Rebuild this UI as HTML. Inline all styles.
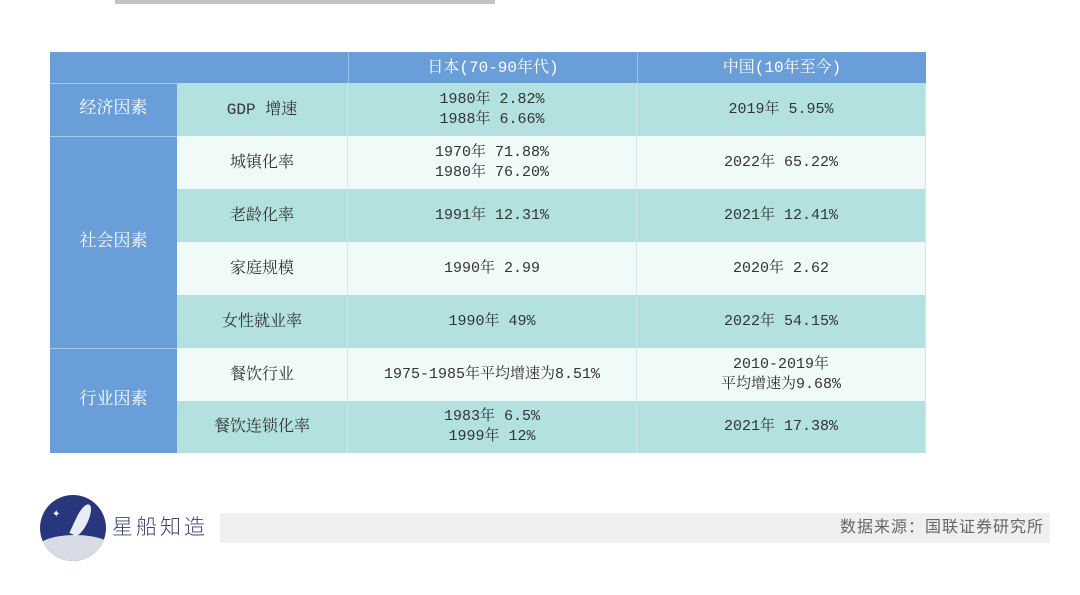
<!DOCTYPE html>
<html><head><meta charset="utf-8"><style>
body{margin:0;width:1080px;height:595px;background:#fff;position:relative;overflow:hidden;font-family:"Liberation Mono","Noto Serif CJK SC",serif;}
.c{position:absolute;display:flex;align-items:center;justify-content:center;text-align:center;font-size:15px;color:#333;line-height:20px;box-sizing:border-box;}
.h{background:#6a9ed9;color:#fff;font-size:16px;}
.t{background:#b2e1e0;}
.w{background:#effaf9;}
.b{border-right:1px solid #d0e6e6;}
</style></head><body>
<div style="position:absolute;left:115px;top:-3px;width:380px;height:7px;background:#555;opacity:.35"></div>
<div style="position:absolute;left:0;top:0">
<div class="c h" style="left:50px;top:52px;width:298px;height:31px"></div>
<div class="c h" style="left:348px;top:52px;width:289px;height:31px;border-left:1px solid #9cc0ea">日本(70-90年代)</div>
<div class="c h" style="left:637px;top:52px;width:289px;height:31px;border-left:1px solid #9cc0ea">中国(10年至今)</div>
<div class="c h" style="left:50px;top:83px;width:127px;height:53px;border-top:1px solid #a8c8ee;font-size:17px">经济因素</div>
<div class="c h" style="left:50px;top:136px;width:127px;height:212px;border-top:1px solid #a8c8ee;font-size:17px">社会因素</div>
<div class="c h" style="left:50px;top:348px;width:127px;height:105px;border-top:1px solid #a8c8ee;font-size:17px">行业因素</div>
<div id="rows"></div>
</div>
<div style="position:absolute;left:40px;top:495px;width:66px;height:66px;border-radius:50%;background:#28377d;overflow:hidden">
<div style="position:absolute;left:-5px;top:40px;width:80px;height:30px;background:#d8dce6;border-radius:50% 50% 0 0"></div>
<div style="position:absolute;left:36px;top:8px;width:12px;height:34px;background:#e8ecf4;border-radius:50% 50% 50% 0;transform:rotate(25deg)"></div>
<div style="position:absolute;left:12px;top:14px;color:#fff;font-size:10px">✦</div>
</div>
<div class="c" style="left:112px;top:513px;height:30px;font-family:'Liberation Sans','Noto Sans CJK SC',sans-serif;font-size:21px;color:#3a4470;letter-spacing:3px;font-weight:300">星船知造</div>
<div class="c" style="left:220px;top:513px;width:830px;height:30px;background:#efefef;justify-content:flex-end;padding-right:6px;font-family:'Liberation Sans','Noto Sans CJK SC',sans-serif;font-size:16px;color:#666;letter-spacing:1px">数据来源：国联证券研究所</div>
<script>
const items=["GDP 增速","城镇化率","老龄化率","家庭规模","女性就业率","餐饮行业","餐饮连锁化率"];
const japan=["1980年 2.82%<br>1988年 6.66%","1970年 71.88%<br>1980年 76.20%","1991年 12.31%","1990年 2.99","1990年 49%","1975-1985年平均增速为8.51%","1983年 6.5%<br>1999年 12%"];
const china=["2019年 5.95%","2022年 65.22%","2021年 12.41%","2020年 2.62","2022年 54.15%","2010-2019年<br>平均增速为9.68%","2021年 17.38%"];
const tops=[83,136,189,242,295,348,401,453];
const r=document.getElementById('rows');
items.forEach((it,i)=>{
 const cls=i%2===0?'t':'w';const y=tops[i],h=tops[i+1]-tops[i];
 [[177,171,it,'row-item'],[348,289,japan[i],'row-japan'],[637,289,china[i],'row-china']].forEach(([x,w,txt,n])=>{
  const d=document.createElement('div');d.className='c '+cls+' b';
  
  
  d.style.cssText=`left:${x}px;top:${y}px;width:${w}px;height:${h}px`;
  if(x===177)d.style.fontSize='16px';
  d.innerHTML=txt;r.appendChild(d);
 });
});
</script>
</body></html>
